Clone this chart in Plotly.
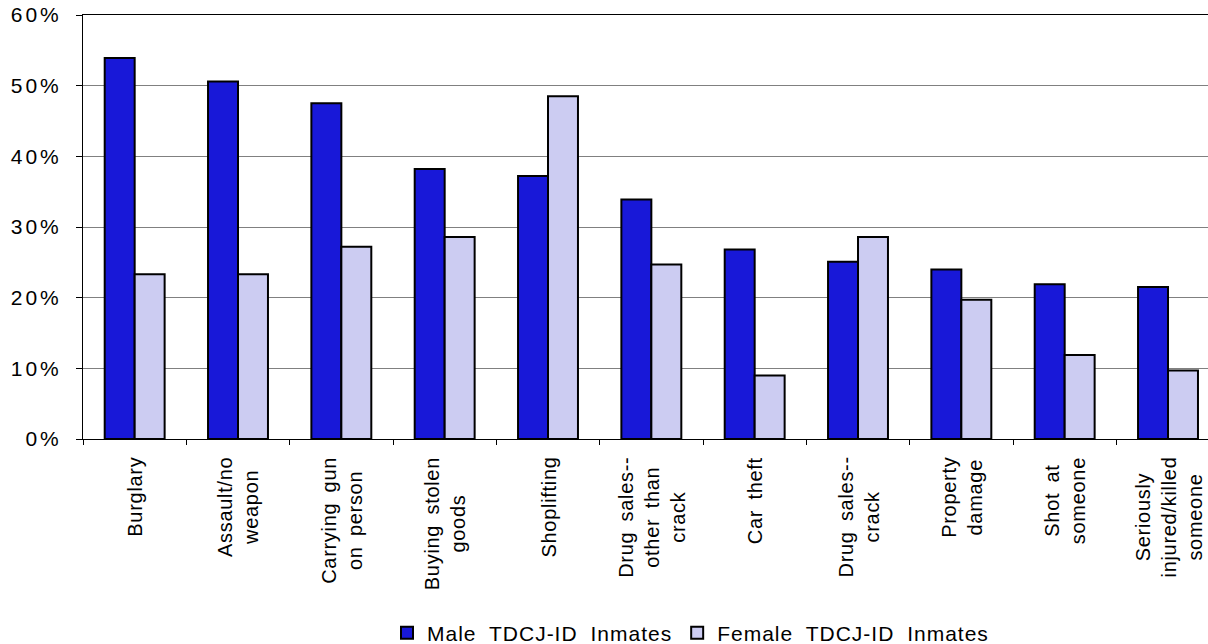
import plotly.graph_objects as go

# Offense categories (x axis) and their wrapped labels
categories = [
    "Burglary", "Assault/no weapon", "Carrying gun on person",
    "Buying stolen goods", "Shoplifting", "Drug sales--other than crack",
    "Car theft", "Drug sales--crack", "Property damage", "Shot at someone",
    "Seriously injured/killed someone",
]
category_labels = [
    "Burglary", "Assault/no<br>weapon", "Carrying gun<br>on person",
    "Buying stolen<br>goods", "Shoplifting", "Drug sales--<br>other than<br>crack",
    "Car theft", "Drug sales--<br>crack", "Property<br>damage", "Shot at<br>someone",
    "Seriously<br>injured/killed<br>someone",
]

# Percent of inmates reporting each offense
male_pct = [53.9, 50.6, 47.5, 38.2, 37.2, 33.9, 26.8, 25.1, 24.0, 21.9, 21.5]
female_pct = [23.3, 23.3, 27.2, 28.6, 48.5, 24.7, 9.0, 28.6, 19.7, 11.9, 9.7]

y_ticks = [0, 10, 20, 30, 40, 50, 60]
y_tick_labels = [f"{v}%" for v in y_ticks]

FONT = "Liberation Sans, Arial, sans-serif"


def spaced(text, letter=0.0, word=0.0):
    """Wrap each line of a label in a span with extra letter/word spacing."""
    style = f"letter-spacing:{letter}px;word-spacing:{word}px"
    return "<br>".join(f'<span style="{style}">{ln}</span>' for ln in text.split("<br>"))


fig = go.Figure()
fig.add_trace(go.Bar(
    x=categories, y=male_pct, name=spaced("Male TDCJ-ID Inmates", 1, 6),
    marker=dict(color="#1818D8", line=dict(color="black", width=2)),
))
fig.add_trace(go.Bar(
    x=categories, y=female_pct, name=spaced("Female TDCJ-ID Inmates", 1, 6),
    marker=dict(color="#CCCCF2", line=dict(color="black", width=2)),
))

# Rotated, centred category labels under each group
for cat, lab in zip(categories, category_labels):
    fig.add_annotation(
        x=cat, y=0, xref="x", yref="y", text=spaced(lab, 0.7, 4), textangle=-90,
        showarrow=False, xanchor="center", yanchor="top", yshift=-16,
        align="center", font=dict(family=FONT, size=20, color="black"),
    )

fig.update_layout(
    width=1208, height=644,
    margin=dict(l=83, r=0, t=15, b=205, autoexpand=False),
    paper_bgcolor="white", plot_bgcolor="white",
    barmode="group", bargap=0.42, bargroupgap=0,
    font=dict(family=FONT, size=20, color="black"),
    showlegend=True,
    legend=dict(
        orientation="h", x=0.54, xanchor="center", y=-0.458, yanchor="middle",
        font=dict(family=FONT, size=21, color="black"),
        bgcolor="rgba(0,0,0,0)", itemwidth=30,
    ),
)

fig.update_xaxes(
    range=[-0.5, 10.387], showticklabels=False,
    tickson="boundaries", ticks="outside", ticklen=5, tickcolor="black",
    showline=True, linecolor="black", linewidth=1, mirror=True,
    showgrid=False, zeroline=False,
)
fig.update_yaxes(
    range=[0, 60], tickvals=y_ticks,
    ticktext=[spaced(t, 3) for t in y_tick_labels],
    ticks="outside", ticklen=6, tickcolor="black", ticklabelstandoff=10,
    tickfont=dict(family=FONT, size=21, color="black"),
    showline=True, linecolor="black", linewidth=1,
    showgrid=True, gridcolor="#808080", gridwidth=1, zeroline=False,
)

fig.write_html("out.html")
